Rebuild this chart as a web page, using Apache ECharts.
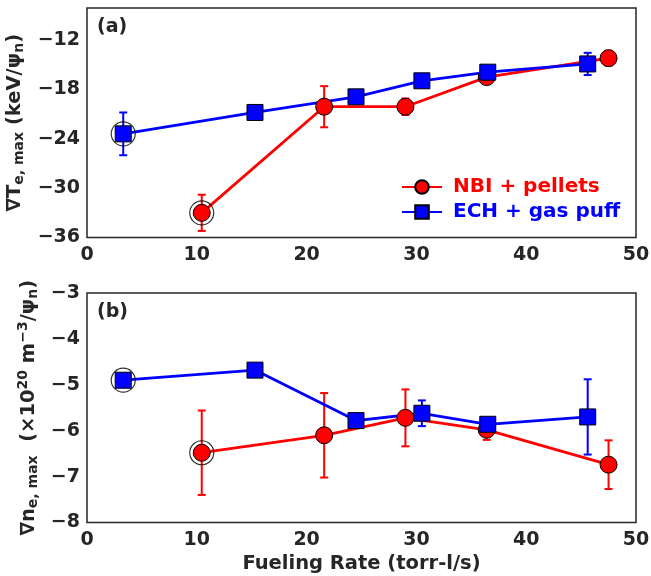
<!DOCTYPE html>
<html>
<head>
<meta charset="utf-8">
<script src="https://cdn.jsdelivr.net/npm/echarts@6/dist/echarts.min.js"></script>
<style>
  html, body { margin: 0; padding: 0; background: #fff; }
  #chart { width: 651px; height: 576px; }
</style>
</head>
<body>
<div id="chart"></div>
<script>
// fueling rate (torr-l/s)
var xNbi = [10.45, 21.6, 29.0, 36.4, 47.5];
var xEch = [3.3, 15.3, 24.5, 30.5, 36.5, 45.6];

// panel (a): grad Te max
var teNbi    = [-33.0, -20.1, -20.1, -16.5, -14.2];
var teNbiErr = [2.2, 2.5, 1.0, 0.3, 0.9];
var teEch    = [-23.4, -20.8, -18.9, -16.95, -15.9, -14.9];
var teEchErr = [2.6, 0.6, 0.3, 0.4, 0.3, 1.35];

// panel (b): grad ne max
var neNbi    = [-6.48, -6.1, -5.72, -5.98, -6.74];
var neNbiErr = [0.92, 0.92, 0.62, 0.22, 0.53];
var neEch    = [-4.9, -4.68, -5.78, -5.62, -5.86, -5.7];
var neEchErr = [0.0, 0.0, 0.0, 0.28, 0.0, 0.82];

var xTicks = [0, 10, 20, 30, 40, 50];
var teTicks = [-36, -30, -24, -18, -12];
var neTicks = [-8, -7, -6, -5, -4, -3];

var RED = '#ff0000', BLUE = '#0000ff', INK = '#262626';

function pairs(xs, ys) { return xs.map(function (x, i) { return [x, ys[i]]; }); }
function errs(xs, ys, es) {
  return xs.map(function (x, i) { return [x, ys[i] - es[i], ys[i] + es[i]]; })
    .filter(function (d) { return d[2] - d[1] > 0; });
}
function errRender(color) {
  return function (params, api) {
    var x = api.value(0);
    var p1 = api.coord([x, api.value(1)]);
    var p2 = api.coord([x, api.value(2)]);
    var w = 4;
    var st = { stroke: color, lineWidth: 2 };
    return {
      type: 'group',
      children: [
        { type: 'line', shape: { x1: p1[0], y1: p1[1], x2: p2[0], y2: p2[1] }, style: st },
        { type: 'line', shape: { x1: p1[0] - w, y1: p1[1], x2: p1[0] + w, y2: p1[1] }, style: st },
        { type: 'line', shape: { x1: p2[0] - w, y1: p2[1], x2: p2[0] + w, y2: p2[1] }, style: st }
      ]
    };
  };
}
function minus(v) { return String(v).replace('-', '\u2212'); }

var labelStyle = { color: INK, fontWeight: 'bold', fontSize: 19, fontFamily: 'DejaVu Sans' };
var richName = {
  m: { fontSize: 19.5, fontWeight: 'bold', color: INK, fontFamily: 'DejaVu Sans' },
  s: { fontSize: 14, fontWeight: 'bold', color: INK, fontFamily: 'DejaVu Sans', padding: [9, 0, 0, 0] },
  u: { fontSize: 14, fontWeight: 'bold', color: INK, fontFamily: 'DejaVu Sans', padding: [0, 0, 10, 0] }
};

function xAxisFor(g) {
  return {
    type: 'value', gridIndex: g, min: 0, max: 50, interval: 10,
    axisLine: { show: false }, axisTick: { show: false }, splitLine: { show: false },
    axisLabel: Object.assign({ margin: 8 }, labelStyle),
    name: g === 1 ? 'Fueling Rate (torr-l/s)' : '',
    nameLocation: 'middle', nameGap: 31,
    nameTextStyle: { color: INK, fontWeight: 'bold', fontSize: 19.5, fontFamily: 'DejaVu Sans' }
  };
}

function lineSeries(name, xi, yi, xs, ys, symbol, size, color) {
  return {
    name: name, type: 'line', xAxisIndex: xi, yAxisIndex: yi,
    data: pairs(xs, ys), symbol: symbol, symbolSize: size, showSymbol: true,
    lineStyle: { color: color, width: 2.8 },
    itemStyle: { color: color, borderColor: '#000', borderWidth: 1 },
    animation: false, z: 3
  };
}
function errSeries(xi, yi, xs, ys, es, color) {
  return {
    type: 'custom', xAxisIndex: xi, yAxisIndex: yi,
    data: errs(xs, ys, es), encode: { x: 0, y: [1, 2] },
    renderItem: errRender(color), animation: false, z: 3, silent: true
  };
}
function ringSeries(xi, yi, pts) {
  return {
    type: 'scatter', xAxisIndex: xi, yAxisIndex: yi, data: pts,
    symbol: 'circle', symbolSize: 24,
    itemStyle: { color: 'rgba(0,0,0,0)', borderColor: '#000', borderWidth: 1.2 },
    animation: false, z: 5, silent: true
  };
}

var chart = echarts.init(document.getElementById('chart'));
chart.setOption({
  backgroundColor: '#fff',
  grid: [
    { left: 87, right: 15, top: 8, height: 229.5, show: true, borderColor: INK, borderWidth: 1.5,
      outerBoundsMode: 'none', containLabel: false },
    { left: 87, right: 15, top: 293, height: 229.5, show: true, borderColor: INK, borderWidth: 1.5,
      outerBoundsMode: 'none', containLabel: false }
  ],
  xAxis: [xAxisFor(0), xAxisFor(1)],
  yAxis: [
    {
      type: 'value', gridIndex: 0, min: -36, max: -8.1, interval: 6,
      axisLine: { show: false }, axisTick: { show: false }, splitLine: { show: false },
      axisLabel: Object.assign({ margin: 7, showMaxLabel: false,
        formatter: function (v) { return teTicks.indexOf(v) >= 0 ? minus(v) : ''; } }, labelStyle),
      name: '{m|\u2207T}{s|e, max}{m| (keV/\u03c8}{s|n}{m|)}',
      nameLocation: 'middle', nameGap: 53, nameRotate: 90,
      nameTextStyle: { rich: richName }
    },
    {
      type: 'value', gridIndex: 1, min: -8, max: -3, interval: 1,
      axisLine: { show: false }, axisTick: { show: false }, splitLine: { show: false },
      axisLabel: Object.assign({ margin: 7,
        formatter: function (v) { return neTicks.indexOf(v) >= 0 ? minus(v) : ''; } }, labelStyle),
      name: '{m|\u2207n}{s|e, max}{m|  (\u00d710}{u|20}{m| m}{u|\u22123}{m|/\u03c8}{s|n}{m|)}',
      nameLocation: 'middle', nameGap: 44, nameRotate: 90,
      nameTextStyle: { rich: richName }
    }
  ],
  legend: {
    orient: 'vertical', left: 396, top: 172, itemWidth: 40, itemHeight: 17, itemGap: 5,
    textStyle: { fontSize: 20, fontWeight: 'bold', fontFamily: 'DejaVu Sans', padding: [0, 0, 0, 6] },
    data: [
      { name: 'NBI + pellets', textStyle: { color: RED } },
      { name: 'ECH + gas puff', textStyle: { color: BLUE } }
    ]
  },
  graphic: [
    { type: 'text', left: 97, top: 18, style: { text: '(a)', fill: INK, font: 'bold 19px "DejaVu Sans"' } },
    { type: 'text', left: 97, top: 303, style: { text: '(b)', fill: INK, font: 'bold 19px "DejaVu Sans"' } }
  ],
  series: [
    errSeries(0, 0, xNbi, teNbi, teNbiErr, RED),
    lineSeries('NBI + pellets', 0, 0, xNbi, teNbi, 'circle', 17, RED),
    errSeries(0, 0, xEch, teEch, teEchErr, BLUE),
    lineSeries('ECH + gas puff', 0, 0, xEch, teEch, 'rect', 16, BLUE),
    ringSeries(0, 0, [[xEch[0], teEch[0]], [xNbi[0], teNbi[0]]]),

    errSeries(1, 1, xNbi, neNbi, neNbiErr, RED),
    lineSeries('NBI + pellets', 1, 1, xNbi, neNbi, 'circle', 17, RED),
    errSeries(1, 1, xEch, neEch, neEchErr, BLUE),
    lineSeries('ECH + gas puff', 1, 1, xEch, neEch, 'rect', 16, BLUE),
    ringSeries(1, 1, [[xEch[0], neEch[0]], [xNbi[0], neNbi[0]]])
  ]
});
</script>
</body>
</html>
